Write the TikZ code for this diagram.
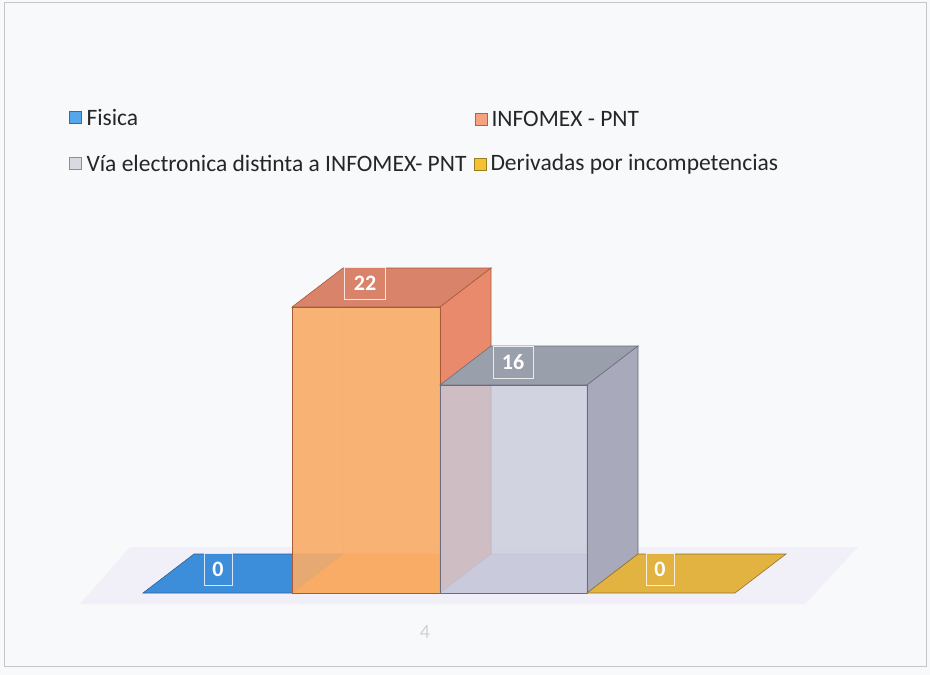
\documentclass[tikz,border=0pt]{standalone}
\usepackage{fontspec}
\setmainfont{Carlito}
\usetikzlibrary{positioning}

\definecolor{pagebg}{HTML}{F8F9FB}
\definecolor{fisblue}{HTML}{3D8EDA}
\definecolor{fisblueleg}{HTML}{55A6EA}
\definecolor{infofront}{HTML}{F9AC66}
\definecolor{infotop}{HTML}{D9836A}
\definecolor{infoside}{HTML}{E98A6C}
\definecolor{infoedge}{HTML}{A85A3C}
\definecolor{infoleg}{HTML}{F6A27E}
\definecolor{viafront}{HTML}{C9CADB}
\definecolor{viatop}{HTML}{9AA0AB}
\definecolor{viaside}{HTML}{A8AABB}
\definecolor{viaedge}{HTML}{6A6E7C}
\definecolor{vialeg}{HTML}{D9D9E2}
\definecolor{derivyel}{HTML}{E2B340}
\definecolor{derivleg}{HTML}{F2C232}
\definecolor{floorshade}{HTML}{E9E4F3}

\begin{document}
\begin{tikzpicture}[x=1pt,y=-1pt,
  legbox/.style={draw=#1!65!black, fill=#1, minimum size=12pt, inner sep=0pt, line width=0.6pt},
  legtext/.style={font=\fontsize{23.5}{26}\selectfont, text=black!85, inner sep=0pt, anchor=west},
  vallabel/.style={draw=white!80!#1, fill=#1, fill opacity=0.85, text opacity=1, text=white,
    font=\bfseries\fontsize{22}{24}\selectfont, line width=0.7pt, inner sep=0pt,
    minimum height=32pt},
  hidden/.style={line width=0.6pt, opacity=0.35}]

\useasboundingbox (0,0) rectangle (930,675);
\fill[pagebg] (0,0) rectangle (930,675);
\draw[gray!45, line width=0.8pt] (4,2) rectangle (926,666);

% legend
\node[legbox=fisblueleg] (sqFis) at (75,117) {};
\node[legtext, right=5pt of sqFis] (txFis) {Fisica};
\node[legbox=infoleg] (sqInfo) at (481,119) {};
\node[legtext, right=4pt of sqInfo] (txInfo) {INFOMEX - PNT};
\node[legbox=vialeg] (sqVia) at (75,163) {};
\node[legtext, right=5pt of sqVia] (txVia) {Vía electronica distinta a INFOMEX- PNT};
\node[legbox=derivleg] (sqDeriv) at (480,164) {};
\node[legtext, right=4pt of sqDeriv] (txDeriv) {Derivadas por incompetencias};

% floor shadow
\fill[floorshade, opacity=0.45] (80,604) -- (805,604) -- (858,547) -- (130,547) -- cycle;

% Fisica (0)
\filldraw[fill=fisblue, draw=fisblue!70!black, line width=0.6pt]
  (143,593) -- (292,593) -- (343,554) -- (194,554) -- cycle;

% INFOMEX - PNT (22)
\fill[infofront] (292,593) -- (440,593) -- (491,554) -- (343,554) -- cycle;
\draw[infoedge, hidden] (343,268) -- (343,554) -- (491,554) (343,554) -- (292,593);
\filldraw[fill=infotop, draw=infoedge, line width=0.6pt]
  (292,307) -- (440,307) -- (491,268) -- (343,268) -- cycle;
\filldraw[fill=infoside, draw=infoedge, line width=0.6pt]
  (440,307) -- (491,268) -- (491,554) -- (440,593) -- cycle;
\filldraw[fill=infofront, fill opacity=0.9, draw=infoedge, line width=0.6pt]
  (292,307) rectangle (440,593);

% Via electronica (16)
\fill[viafront] (440,593) -- (587,593) -- (638,554) -- (491,554) -- cycle;
\draw[viaedge, hidden] (491,346) -- (491,554) -- (638,554) (491,554) -- (440,593);
\filldraw[fill=viatop, draw=viaedge, line width=0.6pt]
  (440,385) -- (587,385) -- (638,346) -- (491,346) -- cycle;
\filldraw[fill=viaside, draw=viaedge, line width=0.6pt]
  (587,385) -- (638,346) -- (638,554) -- (587,593) -- cycle;
\filldraw[fill=viafront, fill opacity=0.8, draw=viaedge, line width=0.6pt]
  (440,385) rectangle (587,593);

% Derivadas (0)
\filldraw[fill=derivyel, draw=derivyel!65!black, line width=0.6pt]
  (587,593) -- (735,593) -- (786,554) -- (638,554) -- cycle;

% value labels
\node[vallabel=fisblue, minimum width=28pt] (valFis) at (218,569) {0};
\node[vallabel=infotop, minimum width=41pt] (valInfo) at (365,283) {22};
\node[vallabel=viatop, minimum width=40pt] (valVia) at (513,362) {16};
\node[vallabel=derivyel, minimum width=28pt] (valDeriv) at (660,569) {0};

% page number
\node[text=gray!35, font=\fontsize{20}{22}\selectfont] (pageno) at (425,632) {4};
\end{tikzpicture}
\end{document}
